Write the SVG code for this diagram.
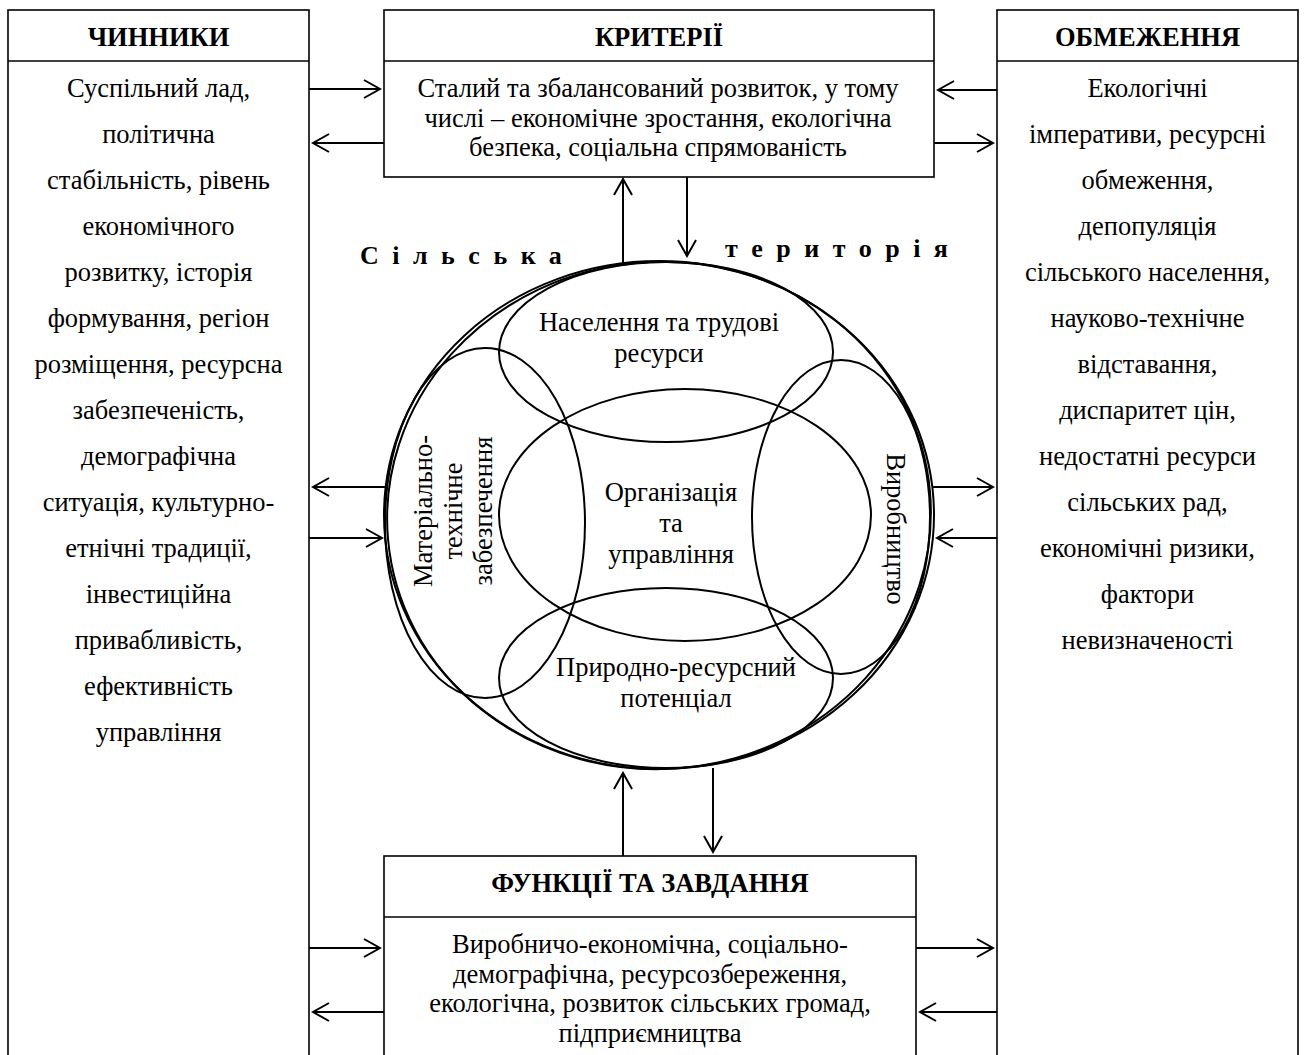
<svg xmlns="http://www.w3.org/2000/svg" width="1304" height="1055" viewBox="0 0 1304 1055">
<defs>
<marker id="arr" markerUnits="userSpaceOnUse" viewBox="0 0 20 20" markerWidth="20" markerHeight="20" refX="18" refY="10" orient="auto">
<path d="M2,1 L18,10 L2,19" fill="none" stroke="#000" stroke-width="2"/>
</marker>
<style>
.box{fill:#fff;stroke:#000;stroke-width:1.6}
.sep{stroke:#000;stroke-width:1.6}
.t{font-family:"Liberation Serif","Times New Roman",serif;font-size:26.5px;fill:#000;text-anchor:middle}
.h{font-family:"Liberation Serif","Times New Roman",serif;font-size:26.5px;font-weight:bold;fill:#000;text-anchor:middle}
.sp{font-family:"Liberation Serif","Times New Roman",serif;font-size:26px;font-weight:bold;fill:#000;letter-spacing:13.5px}
.el{fill:none;stroke:#000;stroke-width:2}
.c{fill:none;stroke:#000;stroke-width:2;marker-end:url(#arr)}
</style>
</defs>
<rect width="1304" height="1055" fill="#fff"/>

<g id="chynnyky">
<rect class="box" x="8" y="10" width="301" height="1070"/>
<line class="sep" x1="8" y1="61" x2="309" y2="61"/>
<text class="h" x="158.5" y="46">ЧИННИКИ</text>
<text class="t" x="158.5" y="97">Суспільний лад,</text>
<text class="t" x="158.5" y="143">політична</text>
<text class="t" x="158.5" y="189">стабільність, рівень</text>
<text class="t" x="158.5" y="235">економічного</text>
<text class="t" x="158.5" y="281">розвитку, історія</text>
<text class="t" x="158.5" y="327">формування, регіон</text>
<text class="t" x="158.5" y="373">розміщення, ресурсна</text>
<text class="t" x="158.5" y="419">забезпеченість,</text>
<text class="t" x="158.5" y="465">демографічна</text>
<text class="t" x="158.5" y="511">ситуація, культурно-</text>
<text class="t" x="158.5" y="557">етнічні традиції,</text>
<text class="t" x="158.5" y="603">інвестиційна</text>
<text class="t" x="158.5" y="649">привабливість,</text>
<text class="t" x="158.5" y="695">ефективність</text>
<text class="t" x="158.5" y="741">управління</text>
</g>

<g id="obmezhennia">
<rect class="box" x="997" y="10" width="301" height="1070"/>
<line class="sep" x1="997" y1="61" x2="1298" y2="61"/>
<text class="h" x="1147.5" y="46">ОБМЕЖЕННЯ</text>
<text class="t" x="1147.5" y="97">Екологічні</text>
<text class="t" x="1147.5" y="143">імперативи, ресурсні</text>
<text class="t" x="1147.5" y="189">обмеження,</text>
<text class="t" x="1147.5" y="235">депопуляція</text>
<text class="t" x="1147.5" y="281">сільського населення,</text>
<text class="t" x="1147.5" y="327">науково-технічне</text>
<text class="t" x="1147.5" y="373">відставання,</text>
<text class="t" x="1147.5" y="419">диспаритет цін,</text>
<text class="t" x="1147.5" y="465">недостатні ресурси</text>
<text class="t" x="1147.5" y="511">сільських рад,</text>
<text class="t" x="1147.5" y="557">економічні ризики,</text>
<text class="t" x="1147.5" y="603">фактори</text>
<text class="t" x="1147.5" y="649">невизначеності</text>
</g>

<g id="kryterii">
<rect class="box" x="384" y="10" width="550" height="167"/>
<line class="sep" x1="384" y1="61" x2="934" y2="61"/>
<text class="h" x="659" y="46">КРИТЕРІЇ</text>
<text class="t" x="658" y="97">Сталий та збалансований розвиток, у тому</text>
<text class="t" x="658" y="126.5">числі – економічне зростання, екологічна</text>
<text class="t" x="658" y="156">безпека, соціальна спрямованість</text>
</g>

<g id="funktsii">
<rect class="box" x="384" y="856" width="532" height="230"/>
<line class="sep" x1="384" y1="917" x2="916" y2="917"/>
<text class="h" x="650" y="892">ФУНКЦІЇ ТА ЗАВДАННЯ</text>
<text class="t" x="650" y="953">Виробничо-економічна, соціально-</text>
<text class="t" x="650" y="983">демографічна, ресурсозбереження,</text>
<text class="t" x="650" y="1012">екологічна, розвиток сільських громад,</text>
<text class="t" x="650" y="1042">підприємництва</text>
</g>

<g id="terytoriia">
<ellipse class="el" cx="659" cy="515" rx="275" ry="254"/>
<ellipse class="el" cx="659" cy="515.5" rx="272" ry="253.5" transform="rotate(-5 659 515.5)"/>
<text class="sp" x="360" y="264">Сільська</text>
<text class="sp" x="725" y="257">територія</text>
</g>

<g id="naselennia">
<ellipse class="el" cx="666" cy="352" rx="167" ry="90"/>
<text class="t" x="659" y="331">Населення та трудові</text>
<text class="t" x="659" y="362">ресурси</text>
</g>

<g id="materialno">
<ellipse class="el" cx="485" cy="523" rx="100" ry="175"/>
<text class="t" transform="translate(432 511) rotate(-90)">Матеріально-</text>
<text class="t" transform="translate(462 511) rotate(-90)">технічне</text>
<text class="t" transform="translate(492 511) rotate(-90)">забезпечення</text>
</g>

<g id="vyrobnytstvo">
<ellipse class="el" cx="841" cy="517" rx="89" ry="157"/>
<text class="t" transform="translate(887 529) rotate(90)">Виробництво</text>
</g>

<g id="orhanizatsiia">
<ellipse class="el" cx="685" cy="515" rx="186" ry="126"/>
<text class="t" x="671" y="501">Організація</text>
<text class="t" x="671" y="532">та</text>
<text class="t" x="671" y="563">управління</text>
</g>

<g id="pryrodno">
<ellipse class="el" cx="666" cy="678" rx="167" ry="90"/>
<text class="t" x="676" y="676">Природно-ресурсний</text>
<text class="t" x="676" y="707">потенціал</text>
</g>

<g id="connectors">
<path class="c" d="M309,89 H380"/>
<path class="c" d="M384,143 H313"/>
<path class="c" d="M386,487 H313"/>
<path class="c" d="M309,538 H382"/>
<path class="c" d="M309,948 H380"/>
<path class="c" d="M384,1012 H313"/>
<path class="c" d="M997,90 H938"/>
<path class="c" d="M934,143 H993"/>
<path class="c" d="M933,487 H993"/>
<path class="c" d="M997,538 H937"/>
<path class="c" d="M916,948 H993"/>
<path class="c" d="M997,1012 H920"/>
<path class="c" d="M623,263 V179"/>
<path class="c" d="M687,177 V256"/>
<path class="c" d="M623,856 V773"/>
<path class="c" d="M713,768 V852"/>
</g>
</svg>
